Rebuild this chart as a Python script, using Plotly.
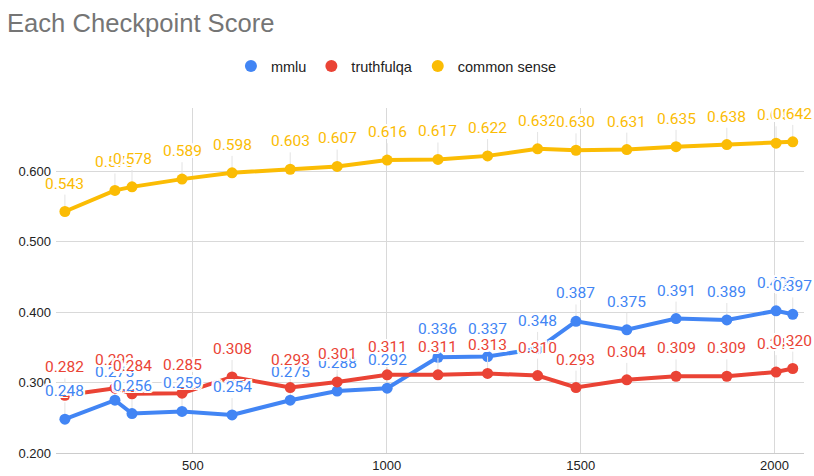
import plotly.graph_objects as go

steps = [170, 299, 343, 472, 601, 751, 872, 1001, 1132, 1260, 1389, 1488, 1619, 1746, 1877, 2004, 2047]
mmlu = [0.248, 0.275, 0.256, 0.259, 0.254, 0.275, 0.288, 0.292, 0.336, 0.337, 0.348, 0.387, 0.375, 0.391, 0.389, 0.402, 0.397]
truthfulqa = [0.282, 0.292, 0.284, 0.285, 0.308, 0.293, 0.301, 0.311, 0.311, 0.313, 0.310, 0.293, 0.304, 0.309, 0.309, 0.315, 0.320]
common_sense = [0.543, 0.573, 0.578, 0.589, 0.598, 0.603, 0.607, 0.616, 0.617, 0.622, 0.632, 0.630, 0.631, 0.635, 0.638, 0.640, 0.642]
y_ticks = [0.2, 0.3, 0.4, 0.5, 0.6]
x_ticks = [500, 1000, 1500, 2000]

series = [
    ("mmlu", mmlu, "#4285F4"),
    ("truthfulqa", truthfulqa, "#EA4335"),
    ("common sense", common_sense, "#FBBC04"),
]

halo = ("-2px -2px 0 #fff, 2px -2px 0 #fff, -2px 2px 0 #fff, 2px 2px 0 #fff, "
        "0 2px 0 #fff, 0 -2px 0 #fff, 2px 0 0 #fff, -2px 0 0 #fff")
SANS = "Liberation Sans, Arial, sans-serif"

fig = go.Figure()
annotations = []
for name, vals, color in series:
    fig.add_trace(go.Scatter(
        x=steps, y=vals, name=name, mode="lines+markers",
        line=dict(color=color, width=4),
        marker=dict(color=color, size=11),
        error_y=dict(type="constant", value=0.024, symmetric=False, valueminus=0,
                     color="#e3e3e3", thickness=1, width=0),
        showlegend=False, legendgroup=name, cliponaxis=False,
    ))
    # legend entry (circle only)
    fig.add_trace(go.Scatter(
        x=[None], y=[None], name=name, mode="markers",
        marker=dict(color=color, size=15), legendgroup=name, showlegend=True,
    ))
    for s, v in zip(steps, vals):
        annotations.append(dict(
            x=s, y=v, xref="x", yref="y", text=f"{v:.3f}", showarrow=False,
            yshift=28,
            font=dict(family="Roboto", size=15.5, color=color, shadow=halo),
        ))

fig.update_layout(
    width=814, height=476,
    paper_bgcolor="white", plot_bgcolor="white",
    margin=dict(l=56, r=10, t=108, b=23),
    hovermode=False,
    title=dict(text="Each Checkpoint Score", x=7/814, xref="container", xanchor="left",
               y=1 - 23/476, yanchor="middle",
               font=dict(family=SANS, size=25.6, color="#757575")),
    legend=dict(orientation="h", x=0.487, xanchor="center", xref="container",
                y=1 - 66/476, yref="container", yanchor="middle",
                font=dict(family=SANS, size=14.5, color="#222"),
                itemsizing="constant", traceorder="normal"),
    font=dict(family=SANS, size=13, color="#222"),
    annotations=annotations,
)
fig.update_xaxes(range=[147, 2076], tickvals=x_ticks, automargin=False,
                 showgrid=True, gridcolor="#d9d9d9", gridwidth=1,
                 zeroline=False, showline=True, linecolor="#cccccc", ticks="",
                 tickfont=dict(family=SANS, size=13, color="#222"))
fig.update_yaxes(range=[0.2, 0.69], tickvals=y_ticks, automargin=False,
                 tickformat=".3f", showgrid=True, gridcolor="#d9d9d9", gridwidth=1,
                 zeroline=False, showline=False, ticks="", ticklabelstandoff=4,
                 tickfont=dict(family=SANS, size=13, color="#222"))

fig.write_html("out.html", config={"displayModeBar": False},
               post_script="document.body.style.margin='0px';")
